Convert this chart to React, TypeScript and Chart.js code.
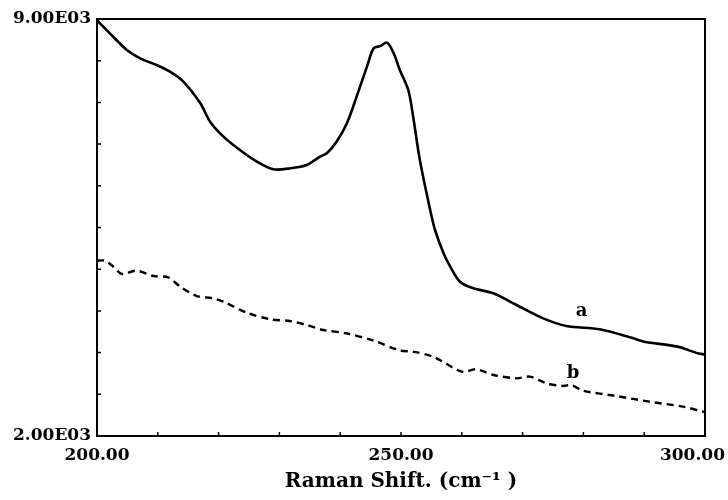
import React, { useEffect, useRef } from 'react';
import { Chart, registerables } from 'chart.js';

Chart.register(...registerables);

// Curve a (solid)
const xA = [200, 202.1, 204.9, 207.1, 209.8, 212.0, 214.2, 217.0, 218.6, 220.8, 223.5, 226.3, 229.0, 231.8, 234.5, 236.7, 237.8, 239.4, 241.1, 242.7, 244.4, 245.5, 246.6, 247.7, 248.8, 249.8, 251.2, 252.0, 253.1, 254.8, 255.6, 257.0, 258.1, 259.7, 261.9, 265.2, 269.0, 273.4, 277.2, 282.7, 288.2, 290.0, 295.5, 298.8, 300];
const yA = [8980, 8760, 8480, 8340, 8228, 8116, 7950, 7585, 7276, 7025, 6800, 6605, 6477, 6494, 6550, 6690, 6745, 6940, 7250, 7696, 8200, 8508, 8547, 8602, 8424, 8144, 7808, 7360, 6633, 5794, 5458, 5067, 4842, 4590, 4479, 4395, 4199, 3975, 3846, 3791, 3640, 3583, 3500, 3388, 3370];

// Curve b (dashed)
const xB = [200, 201.3, 202.7, 204.1, 206.5, 209.3, 211.7, 213.7, 216.4, 219.1, 220.8, 224.6, 228.5, 231.7, 234.5, 237.2, 241.0, 245.5, 249.8, 252.0, 255.3, 260.0, 262.4, 265.2, 269.0, 271.2, 273.9, 276.7, 278.0, 279.9, 285.4, 290.9, 296.4, 299.7, 300];
const yB = [4943, 4943, 4842, 4719, 4775, 4686, 4663, 4506, 4350, 4311, 4255, 4070, 3959, 3930, 3863, 3779, 3724, 3600, 3438, 3415, 3331, 3080, 3120, 3024, 2968, 2996, 2885, 2840, 2856, 2761, 2671, 2576, 2492, 2408, 2400];

const X_MIN = 200;
const X_MAX = 300;
const X_STEP = 10;
const Y_MIN = 2000;
const Y_MAX = 9000;
const Y_STEP = 700;

const xLabelValues = [200, 250, 300];
const xLabelTexts = ['200.00', '250.00', '300.00'];
const yLabelValues = [2000, 9000];
const yLabelTexts = ['2.00E03', '9.00E03'];
const xTitle = 'Raman Shift. (cm\u207B\u00B9 )';

const curveLabelTexts = ['a', 'b'];
const curveLabelX = [279.7, 278.3];
const curveLabelY = [4087, 3050];

const FONT = '"DejaVu Serif", serif';

const decoPlugin = {
  id: 'deco',
  afterDraw(chart: any) {
    const { ctx, chartArea, scales } = chart;
    const xs = scales.x;
    const ys = scales.y;
    ctx.save();
    // frame
    ctx.strokeStyle = '#000';
    ctx.lineWidth = 2;
    ctx.strokeRect(chartArea.left, chartArea.top, chartArea.right - chartArea.left, chartArea.bottom - chartArea.top);
    // inward ticks
    ctx.lineWidth = 1.5;
    ctx.beginPath();
    xs.ticks.forEach((t: any) => {
      const px = xs.getPixelForValue(t.value);
      ctx.moveTo(px, chartArea.bottom);
      ctx.lineTo(px, chartArea.bottom - 4);
    });
    ys.ticks.forEach((t: any) => {
      const py = ys.getPixelForValue(t.value);
      ctx.moveTo(chartArea.left, py);
      ctx.lineTo(chartArea.left + 4, py);
    });
    ctx.stroke();
    // x tick labels
    ctx.fillStyle = '#000';
    ctx.font = `bold 17px ${FONT}`;
    ctx.textAlign = 'center';
    ctx.textBaseline = 'middle';
    xLabelValues.forEach((v, i) => {
      const w = ctx.measureText(xLabelTexts[i]).width;
      let px = xs.getPixelForValue(v);
      px = Math.min(px, chart.width - w / 2 - 3);
      ctx.fillText(xLabelTexts[i], px, chartArea.bottom + 20);
    });
    // curve labels
    ctx.font = `bold 18px ${FONT}`;
    curveLabelTexts.forEach((t, i) => {
      ctx.fillText(t, xs.getPixelForValue(curveLabelX[i]), ys.getPixelForValue(curveLabelY[i]));
    });
    ctx.restore();
  },
};

export default function App() {
  const ref = useRef<HTMLCanvasElement | null>(null);
  useEffect(() => {
    if (!ref.current) return;
    const chart = new Chart(ref.current, {
      type: 'line',
      data: {
        datasets: [
          {
            label: 'a',
            data: xA.map((x, i) => ({ x, y: yA[i] })),
            borderColor: '#000',
            borderWidth: 2.6,
            pointRadius: 0,
            tension: 0.3,
            fill: false,
          },
          {
            label: 'b',
            data: xB.map((x, i) => ({ x, y: yB[i] })),
            borderColor: '#000',
            borderWidth: 2.4,
            borderDash: [7, 5],
            pointRadius: 0,
            tension: 0.3,
            fill: false,
          },
        ],
      },
      options: {
        animation: false,
        responsive: false,
        devicePixelRatio: 1,
        layout: { padding: { top: 19, right: 23, left: 0, bottom: 0 } },
        plugins: { legend: { display: false }, tooltip: { enabled: false } },
        scales: {
          x: {
            type: 'linear',
            min: X_MIN,
            max: X_MAX,
            grid: { display: false, drawTicks: false },
            border: { display: true, color: '#000', width: 2 },
            ticks: { display: false, stepSize: X_STEP },
            title: {
              display: true,
              text: xTitle,
              color: '#000',
              font: { family: FONT, size: 20, weight: 'bold' },
              padding: { top: 0, bottom: 6 },
            },
            afterFit: (s: any) => {
              s.height = 64;
              s.paddingLeft = 0;
              s.paddingRight = 0;
            },
          },
          y: {
            type: 'linear',
            min: Y_MIN,
            max: Y_MAX,
            grid: { display: false, drawTicks: false },
            border: { display: true, color: '#000', width: 2 },
            ticks: {
              stepSize: Y_STEP,
              padding: 6,
              color: '#000',
              font: { family: FONT, size: 17, weight: 'bold' },
              callback: (v: any) => {
                const idx = yLabelValues.indexOf(Math.round(Number(v)));
                return idx >= 0 ? yLabelTexts[idx] : '';
              },
            },
            afterFit: (s: any) => {
              s.width = 97;
              s.paddingTop = 0;
              s.paddingBottom = 0;
            },
          },
        },
      },
      plugins: [decoPlugin],
    });
    return () => chart.destroy();
  }, []);
  return (
    <div style={{ position: 'absolute', left: 0, top: 0, width: 728, height: 500, background: '#fff' }}>
      <canvas ref={ref} width={728} height={500} />
    </div>
  );
}
